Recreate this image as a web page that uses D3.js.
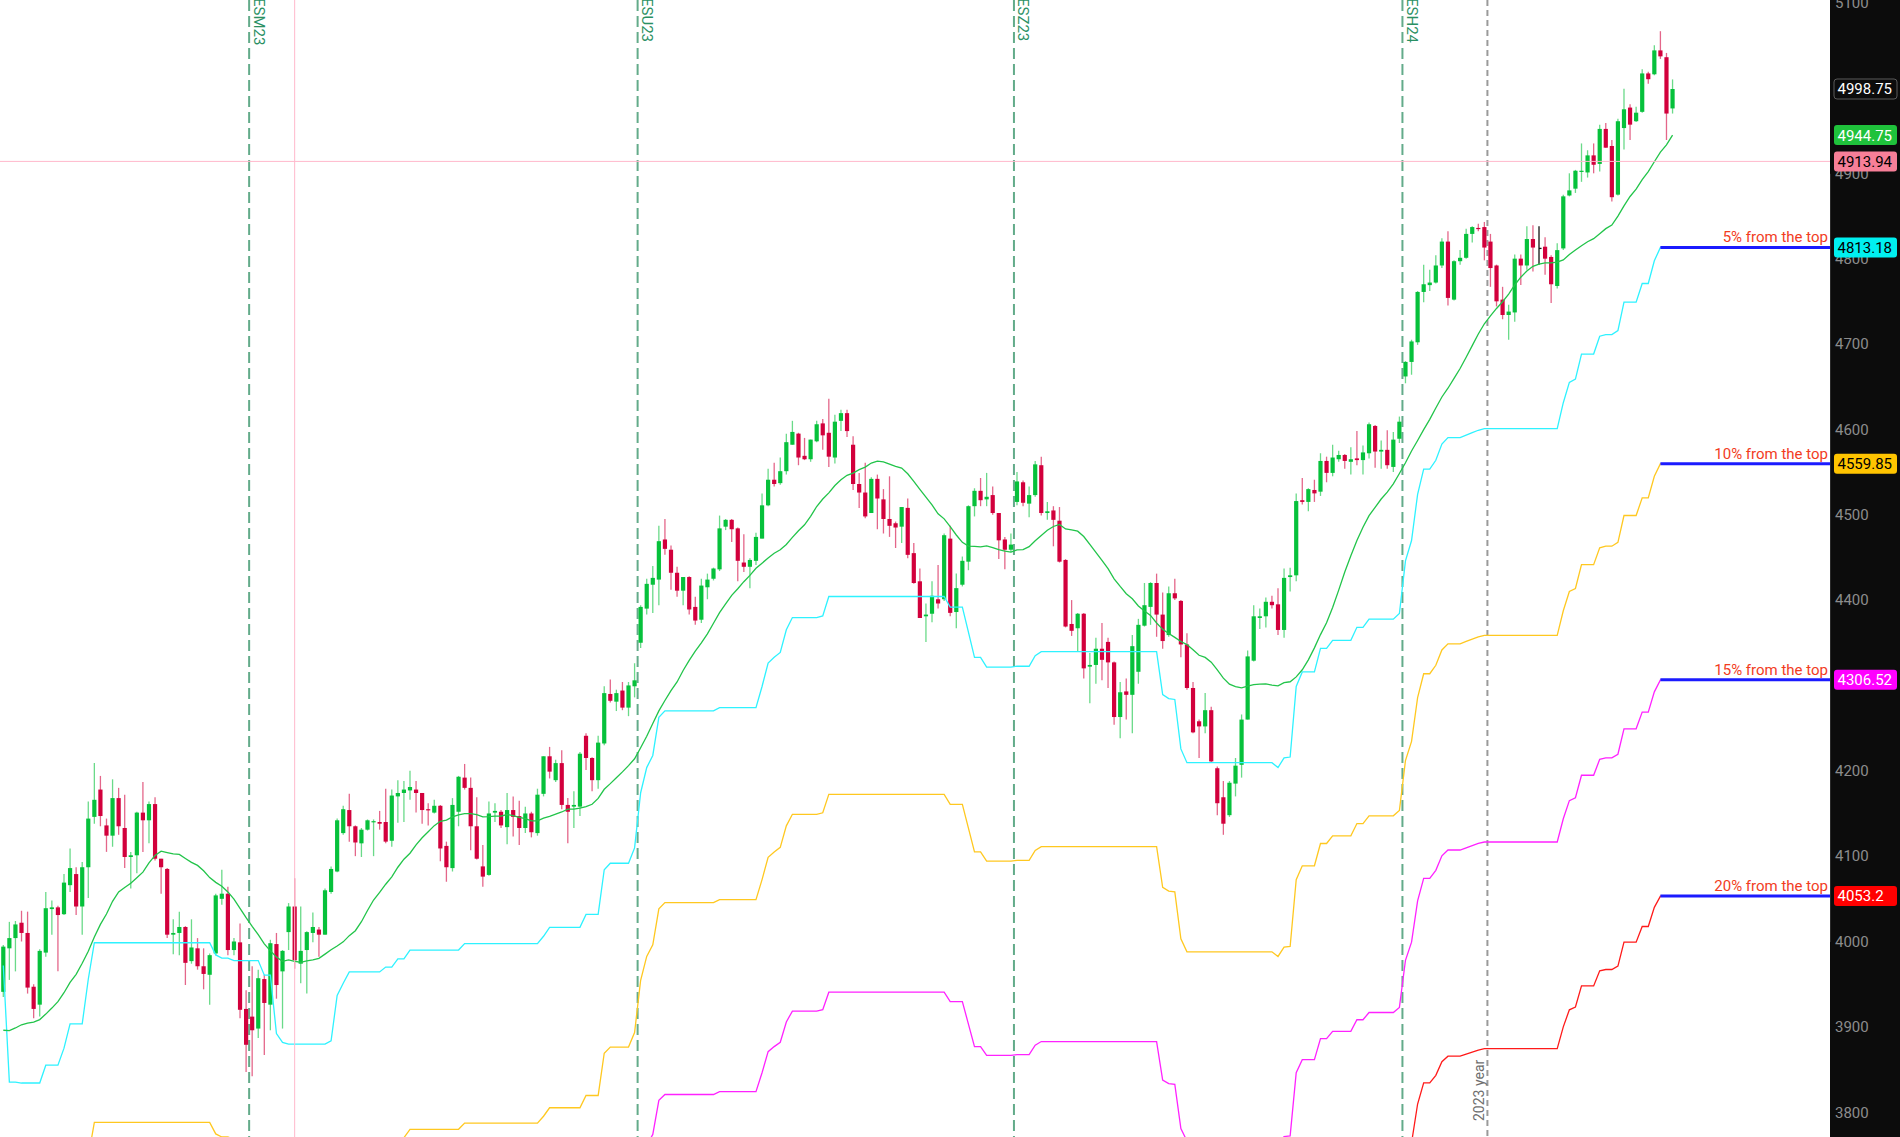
<!DOCTYPE html>
<html>
<head>
<meta charset="utf-8">
<script src="https://cdn.jsdelivr.net/npm/d3@7/dist/d3.min.js"></script>
<style>
  body { margin: 0; background: #ffffff; }
  svg { display: block; font-family: Roboto, "Liberation Sans", sans-serif; }
</style>
</head>
<body>
<div id="chart"></div>
<script>
// daily bars [open, high, low, close]
const candles = [
  [3941,3996,3935,3994],[3992,4023,3955,4004],[4004,4024,3965,4020],[4022,4036,4000,4010],[4010,4035,3939,3946],
  [3947,3950,3910,3921],[3926,3991,3912,3989],[3987,4058,3982,4039],[4038,4048,4008,4040],[4040,4042,3965,4031],
  [4032,4079,4031,4069],[4066,4109,4058,4086],[4079,4087,4031,4041],[4041,4093,4008,4087],[4087,4164,4051,4144],
  [4146,4209,4138,4166],[4178,4194,4135,4147],[4136,4144,4105,4124],[4124,4190,4111,4168],[4168,4180,4125,4135],
  [4133,4172,4086,4099],[4099,4105,4062,4101],[4101,4152,4080,4151],[4151,4187,4105,4142],[4142,4164,4115,4161],
  [4161,4169,4095,4097],[4097,4097,4056,4087],[4085,4086,4004,4008],[4008,4026,3985,4010],[4010,4035,3984,4017],
  [4017,4018,3949,3975],[3977,4026,3974,3993],[3992,4004,3967,3971],[3971,3992,3944,3962],[3961,3986,3926,3984],
  [3986,4056,3984,4054],[4050,4084,4043,4056],[4056,4064,3984,3990],[3990,4004,3984,4000],[3999,4021,3910,3920],
  [3921,3943,3847,3879],[3912,3971,3842,3896],[3898,3967,3887,3957],[3956,3961,3867,3928],[3926,4002,3896,3998],
  [3997,4010,3933,3949],[3965,3990,3898,3989],[4011,4045,3990,4041],[4041,4074,3968,3978],[3974,4041,3951,3989],
  [3990,4012,3939,4011],[4010,4034,3999,4017],[4014,4017,3982,4008],[4008,4062,4008,4060],[4058,4088,4056,4085],
  [4082,4144,4081,4142],[4127,4159,4125,4155],[4154,4173,4117,4135],[4135,4136,4100,4116],[4115,4133,4099,4131],
  [4131,4143,4130,4142],[4140,4143,4100,4141],[4140,4153,4131,4138],[4140,4179,4115,4117],[4118,4178,4111,4171],
  [4170,4189,4139,4174],[4174,4188,4140,4178],[4177,4200,4166,4181],[4178,4188,4151,4174],[4174,4174,4138,4154],
  [4155,4162,4136,4154],[4151,4166,4150,4159],[4159,4160,4094,4109],[4112,4117,4070,4087],[4086,4168,4082,4160],
  [4152,4194,4135,4193],[4192,4208,4178,4180],[4180,4192,4107,4135],[4135,4169,4096,4097],[4088,4113,4064,4076],
  [4078,4164,4077,4150],[4151,4162,4140,4153],[4152,4154,4133,4136],[4134,4174,4114,4154],[4154,4170,4123,4146],
  [4147,4165,4113,4133],[4133,4158,4127,4150],[4150,4152,4122,4128],[4127,4179,4124,4172],[4173,4217,4170,4217],
  [4217,4228,4191,4199],[4189,4213,4187,4209],[4209,4224,4155,4160],[4160,4168,4115,4152],[4158,4176,4133,4160],
  [4158,4222,4147,4220],[4241,4244,4201,4215],[4215,4216,4176,4189],[4189,4241,4179,4233],[4232,4299,4230,4291],
  [4290,4307,4280,4282],[4281,4295,4270,4291],[4294,4304,4271,4274],[4274,4304,4264,4300],[4299,4326,4286,4306],
  [4350,4394,4344,4392],[4390,4425,4383,4419],[4418,4440,4385,4426],[4424,4487,4394,4469],[4471,4495,4453,4460],
  [4459,4464,4412,4432],[4432,4439,4404,4411],[4411,4427,4394,4427],[4427,4428,4383,4389],[4392,4404,4371,4376],
  [4377,4425,4373,4417],[4415,4431,4401,4424],[4425,4438,4423,4437],[4436,4499,4434,4484],[4486,4495,4482,4494],
  [4494,4495,4468,4483],[4484,4485,4422,4446],[4444,4477,4433,4439],[4439,4449,4414,4447],[4446,4479,4441,4474],
  [4472,4525,4472,4511],[4511,4554,4510,4541],[4541,4561,4533,4536],[4537,4567,4535,4551],[4551,4595,4547,4585],
  [4582,4610,4582,4597],[4595,4596,4558,4567],[4569,4590,4564,4565],[4565,4588,4562,4588],[4586,4610,4585,4606],
  [4607,4612,4576,4593],[4596,4636,4556,4568],[4567,4617,4560,4609],[4610,4623,4598,4619],[4619,4623,4591,4598],
  [4582,4592,4529,4536],[4536,4549,4508,4526],[4526,4561,4496,4498],[4502,4544,4502,4542],[4542,4547,4483,4519],
  [4518,4530,4478,4495],[4495,4545,4474,4487],[4490,4492,4461,4485],[4486,4509,4467,4509],[4508,4519,4449,4453],
  [4455,4467,4419,4420],[4422,4437,4379,4379],[4381,4396,4351,4383],[4384,4422,4374,4405],[4401,4441,4390,4396],
  [4401,4478,4399,4476],[4472,4487,4381,4385],[4386,4431,4367,4414],[4418,4451,4416,4446],[4445,4511,4435,4510],
  [4510,4531,4498,4528],[4528,4543,4510,4517],[4518,4549,4510,4521],[4523,4533,4500,4502],[4502,4502,4448,4470],
  [4471,4474,4436,4459],[4459,4478,4456,4465],[4515,4550,4511,4539],[4538,4540,4510,4514],[4513,4533,4497,4523],
  [4523,4563,4521,4559],[4558,4568,4499,4502],[4502,4515,4494,4504],[4505,4510,4463,4494],[4493,4509,4444,4445],
  [4447,4448,4368,4369],[4372,4400,4358,4364],[4367,4385,4340,4384],[4384,4385,4308,4320],[4322,4338,4279,4324],
  [4324,4356,4302,4343],[4343,4373,4306,4330],[4351,4356,4297,4327],[4327,4328,4254,4263],[4263,4304,4238,4292],
  [4293,4308,4260,4289],[4289,4359,4244,4346],[4316,4378,4302,4371],[4370,4420,4369,4394],[4392,4421,4371,4420],
  [4420,4431,4357,4383],[4383,4409,4343,4352],[4359,4416,4357,4408],[4408,4425,4400,4402],[4399,4400,4333,4348],
  [4348,4361,4295,4297],[4297,4304,4244,4245],[4258,4260,4215,4252],[4252,4291,4244,4271],[4271,4275,4209,4211],
  [4203,4205,4148,4162],[4169,4188,4125,4138],[4148,4188,4146,4186],[4185,4215,4170,4206],[4207,4266,4192,4260],
  [4260,4341,4260,4334],[4329,4394,4328,4381],[4379,4390,4366,4381],[4381,4403,4368,4398],[4398,4405,4390,4394],
  [4395,4414,4359,4365],[4365,4437,4356,4426],[4427,4438,4410,4429],[4429,4525,4422,4516],[4517,4543,4512,4515],
  [4515,4531,4504,4530],[4529,4541,4515,4525],[4527,4572,4522,4563],[4563,4568,4538,4549],[4549,4582,4545,4567],
  [4565,4575,4562,4570],[4570,4571,4554,4563],[4562,4579,4547,4565],[4566,4598,4558,4564],[4564,4581,4547,4573],
  [4572,4608,4566,4606],[4604,4605,4555,4574],[4574,4587,4554,4576],[4576,4599,4554,4558],[4556,4597,4550,4588],
  [4589,4615,4584,4609],[4662,4680,4654,4679],[4679,4705,4664,4703],[4702,4762,4699,4761],[4761,4793,4749,4770],
  [4769,4787,4762,4772],[4772,4804,4771,4792],[4792,4824,4789,4820],[4820,4832,4745,4754],[4752,4798,4751,4797],
  [4797,4810,4793,4801],[4801,4835,4800,4829],[4829,4838,4819,4837],[4836,4841,4832,4835],[4837,4843,4798,4813],
  [4820,4829,4767,4789],[4792,4793,4744,4750],[4752,4767,4729,4734],[4734,4746,4705,4738],[4737,4805,4726,4800],
  [4800,4805,4769,4792],[4792,4838,4787,4823],[4823,4839,4785,4813],[4812,4838,4793,4812],[4814,4825,4781,4800],
  [4802,4804,4748,4770],[4768,4818,4765,4810],[4812,4875,4810,4873],[4874,4900,4873,4880],[4882,4904,4877,4903],
  [4902,4935,4890,4903],[4901,4927,4895,4921],[4921,4935,4900,4910],[4911,4957,4902,4952],[4952,4959,4930,4930],
  [4932,4939,4867,4872],[4875,4964,4874,4961],[4953,4999,4928,4975],[4977,4981,4939,4957],[4961,4978,4960,4971],
  [4972,5022,4971,5017],[5017,5019,5005,5010.25],[5016,5050,5015,5044],[5044,5066.5,5034,5037],[5036,5041,4939,4970],
  [4976,5010,4970,4998.75]
];

// bars before the visible window, only needed to warm up the 20 bar indicators
const warmupHighs = [4181, 3990, 4037, 3960, 3935, 3950, 3945, 3925, 3910, 3905, 3880, 3885, 3870, 3875, 3860, 3880, 3900, 3905, 3945];
const warmupCloses = [4010, 3960, 3935, 3905, 3900, 3930, 3910, 3899, 3880, 3860, 3845, 3850, 3830, 3860, 3835, 3850, 3880, 3872, 3915];

const lookback = 20;
const levelPcts = [5, 10, 15, 20];
const priceTicks = [3800, 3900, 4000, 4100, 4200, 4300, 4400, 4500, 4600, 4700, 4800, 4900, 5000, 5100];

// contract rolls sit between bar `after` and the next one
const rollMarks = [
  { label: 'ESM23', after: 40 },
  { label: 'ESU23', after: 104 },
  { label: 'ESZ23', after: 166 },
  { label: 'ESH24', after: 230 }
];
const yearMark = { label: '2023 year', after: 244 };
const oddBar = 253;              // the thin black bar
const crosshair = { bar: 48, price: 4913.94 };

const width = 1900;
const height = 1137;
const plotRight = 1830;

const levelStyle = [
  { line: '#2ef2ff', bg: '#00f0f0', fg: '#000000' },
  { line: '#ffc820', bg: '#ffc400', fg: '#000000' },
  { line: '#ff22ff', bg: '#ff00ff', fg: '#ffffff' },
  { line: '#ff1a1a', bg: '#ff0000', fg: '#ffffff' }
];
const upColor = '#06c13b';
const downColor = '#d2003c';

// indicators: 20 bar highest high and 20 bar simple average of closes
const allHighs = warmupHighs.concat(candles.map(d => d[1]));
const allCloses = warmupCloses.concat(candles.map(d => d[3]));
const W = warmupHighs.length;
const topSeries = candles.map((d, i) => d3.max(allHighs.slice(i + W - lookback + 1, i + W + 1)));
const maSeries = candles.map((d, i) => d3.sum(allCloses.slice(i + W - lookback + 1, i + W + 1)) / lookback);

const last = candles.length - 1;
const topIdx = d3.maxIndex(candles, d => d[1]);
const topHigh = candles[topIdx][1];

const x = d3.scaleLinear().domain([0, last]).range([3.3, 3.3 + last * 6.07]);
const y = d3.scaleLinear().domain([4000, 4900]).range([941.5, 173.3]);

const svg = d3.select('#chart').append('svg')
    .attr('width', width)
    .attr('height', height);

svg.append('defs').append('clipPath').attr('id', 'plot')
    .append('rect').attr('x', 0).attr('y', 0).attr('width', plotRight).attr('height', height);

const plot = svg.append('g').attr('clip-path', 'url(#plot)');

// roll lines
const rolls = plot.append('g');
rollMarks.forEach(m => {
    const xm = (x(m.after) + x(m.after + 1)) / 2;
    rolls.append('line')
        .attr('x1', xm).attr('x2', xm).attr('y1', 0).attr('y2', height)
        .attr('stroke', '#2f8f63').attr('stroke-opacity', 0.75)
        .attr('stroke-width', 2).attr('stroke-dasharray', '11,5');
    rolls.append('text')
        .attr('transform', `translate(${xm + 4.5},-2) rotate(90)`)
        .attr('font-size', '15px')
        .attr('fill', '#2a9063')
        .text(m.label);
});

const xy = (x(yearMark.after) + x(yearMark.after + 1)) / 2;
plot.append('line')
    .attr('x1', xy).attr('x2', xy).attr('y1', 0).attr('y2', height)
    .attr('stroke', '#9a9a9a').attr('stroke-width', 2).attr('stroke-dasharray', '6,4');
plot.append('text')
    .attr('transform', `translate(${xy - 3},1121) rotate(-90)`)
    .attr('font-size', '14px')
    .attr('fill', '#6e6e6e')
    .text(yearMark.label);

// candles
const bars = plot.append('g');
candles.forEach((d, i) => {
    const [o, h, l, c] = d;
    const cx = x(i);
    if (i === oddBar) {
        bars.append('line').attr('x1', cx).attr('x2', cx).attr('y1', y(h)).attr('y2', y(l))
            .attr('stroke', '#111').attr('stroke-width', 1.3);
        bars.append('line').attr('x1', cx).attr('x2', cx + 2.5).attr('y1', y(c)).attr('y2', y(c))
            .attr('stroke', '#111').attr('stroke-width', 1.3);
        return;
    }
    const col = c >= o ? upColor : downColor;
    bars.append('line')
        .attr('x1', cx).attr('x2', cx).attr('y1', y(h)).attr('y2', y(l))
        .attr('stroke', col).attr('stroke-opacity', 0.6).attr('stroke-width', 1.3);
    const top = y(Math.max(o, c));
    const bh = Math.max(1.2, Math.abs(y(o) - y(c)));
    bars.append('rect')
        .attr('x', cx - 2.1).attr('y', top).attr('width', 4.2).attr('height', bh)
        .attr('fill', col);
});

// drawdown levels
const lineGen = d3.line().x((d, i) => x(i)).y(d => y(d));
levelPcts.forEach((p, k) => {
    plot.append('path')
        .datum(topSeries.map(t => t * (1 - p / 100)))
        .attr('fill', 'none')
        .attr('stroke', levelStyle[k].line)
        .attr('stroke-width', 1.3)
        .attr('d', lineGen);
});

// moving average
plot.append('path')
    .datum(maSeries)
    .attr('fill', 'none')
    .attr('stroke', '#22c44a')
    .attr('stroke-width', 1.3)
    .attr('d', lineGen);

// blue lines from the top bar, with captions
levelPcts.forEach(p => {
    const v = topHigh * (1 - p / 100);
    plot.append('line')
        .attr('x1', x(topIdx)).attr('x2', plotRight).attr('y1', y(v)).attr('y2', y(v))
        .attr('stroke', '#1b1bff').attr('stroke-width', 3);
    plot.append('text')
        .attr('x', plotRight - 2).attr('y', y(v) - 5)
        .attr('text-anchor', 'end')
        .attr('font-size', '15px')
        .attr('fill', '#f23c1e')
        .text(`${p}% from the top`);
});

// crosshair
plot.append('line')
    .attr('x1', x(crosshair.bar)).attr('x2', x(crosshair.bar)).attr('y1', 0).attr('y2', height)
    .attr('stroke', '#ffb8cb').attr('stroke-width', 1);
plot.append('line')
    .attr('x1', 0).attr('x2', plotRight).attr('y1', y(crosshair.price)).attr('y2', y(crosshair.price))
    .attr('stroke', '#ffb8cb').attr('stroke-width', 1);

// price scale
svg.append('rect')
    .attr('x', plotRight).attr('y', 0).attr('width', width - plotRight).attr('height', height)
    .attr('fill', '#0c0c0c');

function fmt(v) {
    return String(Math.round(v * 100) / 100);
}
function fmt2(v) {
    return (Math.round(v * 100) / 100).toFixed(2);
}

const priceLabels = [
    { value: candles[last][3], text: fmt2(candles[last][3]), bg: '#0c0c0c', fg: '#ffffff', border: '#5a5a5a' },
    { value: maSeries[last], text: fmt2(maSeries[last]), bg: '#1fc23b', fg: '#ffffff', border: 'none' },
    { value: crosshair.price, text: fmt2(crosshair.price), bg: '#f77f98', fg: '#000000', border: 'none' }
].concat(levelPcts.map((p, k) => {
    const v = topHigh * (1 - p / 100);
    return { value: v, text: fmt(v), bg: levelStyle[k].bg, fg: levelStyle[k].fg, border: 'none' };
}));

// tick labels that sit right under a price tag are hidden by it
const axis = svg.append('g')
    .attr('transform', `translate(${plotRight},0)`)
    .call(d3.axisRight(y).tickValues(priceTicks).tickSize(0).tickPadding(5).tickFormat(d3.format('d')));
axis.select('.domain').attr('stroke', '#2a2a2a');
axis.selectAll('.tick')
    .filter(t => priceLabels.some(p => Math.abs(y(p.value) - y(t)) < 8))
    .remove();
axis.selectAll('text')
    .attr('fill', '#8c8c8c')
    .attr('font-size', '15px')
    .attr('font-family', 'Roboto, "Liberation Sans", sans-serif');

const tags = svg.append('g');
priceLabels.forEach(t => {
    const yy = y(t.value);
    tags.append('rect')
        .attr('x', 1834).attr('y', yy - 10).attr('width', 63).attr('height', 20).attr('rx', 3)
        .attr('fill', t.bg)
        .attr('stroke', t.border === 'none' ? null : t.border);
    tags.append('text')
        .attr('x', 1837.5).attr('y', yy).attr('dy', '0.36em')
        .attr('font-size', '15px')
        .attr('fill', t.fg)
        .text(t.text);
});
</script>
</body>
</html>
